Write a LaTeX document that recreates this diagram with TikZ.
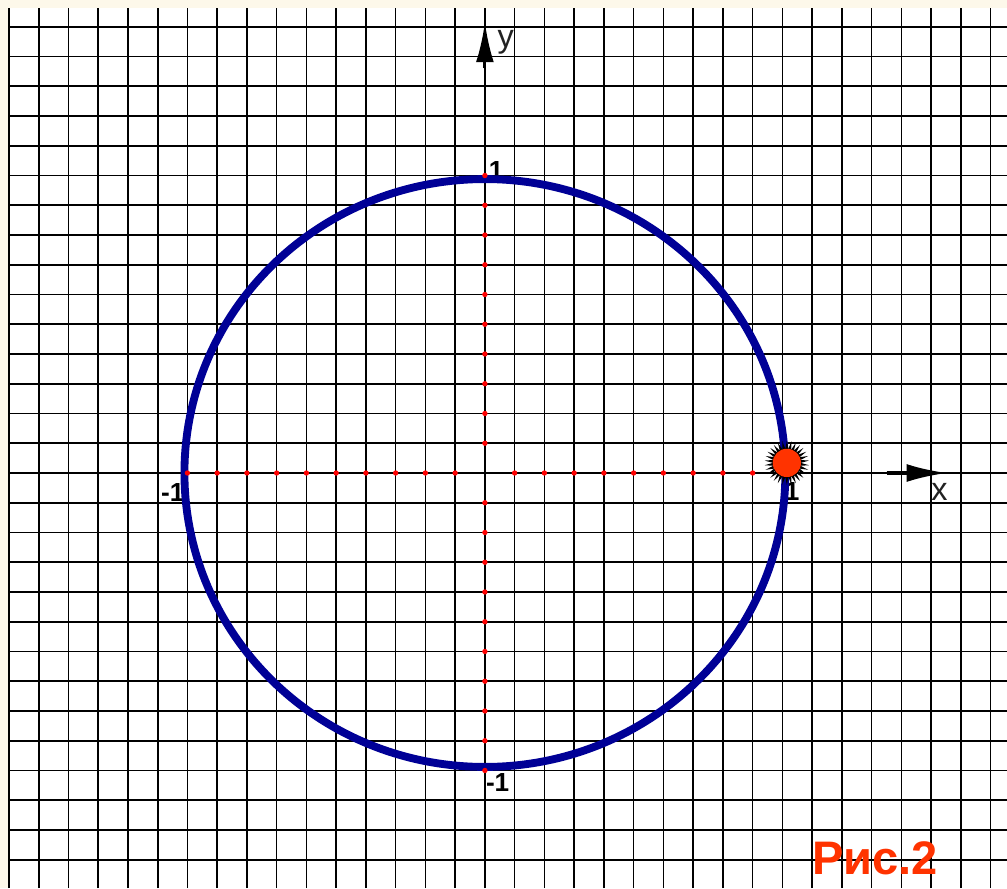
\documentclass[tikz,border=0pt]{standalone}
\usepackage{fontspec}
\setmainfont{Liberation Sans}
\usepackage{tikz}
\usetikzlibrary{arrows.meta,shapes.geometric}
\definecolor{unitnavy}{HTML}{000096}
\definecolor{unitred}{HTML}{FF3300}
\definecolor{unitcream}{HTML}{FDF8EA}
\definecolor{unitgray}{HTML}{222222}

\begin{document}
\begin{tikzpicture}[
  gridline/.style={draw=black,line width=1.6pt},
  axisline/.style={draw=black,line width=2.6pt},
  axistip/.style={-{Latex[length=1.35cm,width=0.6cm]},draw=black,line width=3pt},
  ticklbl/.style={anchor=base west,inner sep=0pt,font=\fontsize{25}{28}\selectfont\bfseries},
  axislbl/.style={anchor=base west,inner sep=0pt,font=\fontsize{31}{34}\selectfont,text=unitgray},
  tickdot/.style={circle,fill=red,inner sep=0pt,minimum size=0.18cm}
]
\useasboundingbox (-16.30,-13.95) rectangle (17.55,15.90);
% paper
\fill[unitcream] (-16.30,-13.95) rectangle (17.55,15.90);
\fill[white] (-16.03,-13.95) rectangle (17.55,15.63);
% grid
\foreach \gx in {-16,...,17}
  \draw[gridline] (\gx,-13.95) -- (\gx,15.63);
\foreach \gy in {-13,...,15}
  \draw[gridline] (-16.03,\gy) -- (17.55,\gy);
% axes
\draw[axisline] (-16.03,0) -- (17.55,0);
\draw[axisline] (0,-13.95) -- (0,15.63);
\draw[axistip] (0,13.6) -- (0,15.16);
\draw[axistip] (13.5,0) -- (15.53,0);
\node[axislbl] (ylbl) at (0.42,14.29) {y};
\node[axislbl] (xlbl) at (15.0,-0.91) {x};
% unit labels
\node[ticklbl] (xminus) at (-10.89,-0.97) {-1};
\node[ticklbl] (xplus) at (10.08,-0.91) {1};
\node[ticklbl] (yplus) at (0.13,9.88) {1};
\node[ticklbl] (yminus) at (0.03,-10.72) {-1};
% unit circle
\draw[draw=unitnavy,line width=7.5pt] (0,0) ellipse [x radius=10.1,y radius=9.88];
\foreach \t in {-10,...,-1,1,2,...,10} {
  \node[tickdot] at (\t,0) {};
  \node[tickdot] at (0,\t) {};
}
% moving point
\node[star,star points=30,star point ratio=1.6,minimum size=1.5cm,inner sep=0pt,fill=black] (pt) at (10.15,0.34) {};
\node[circle,fill=unitred,minimum size=0.95cm,inner sep=0pt] (ptcore) at (pt.center) {};
\node[anchor=base west,inner sep=0pt,font=\fontsize{45}{50}\selectfont\bfseries,text=unitred] (fig) at (10.99,-13.48) {Рис.2};
\end{tikzpicture}
\end{document}
